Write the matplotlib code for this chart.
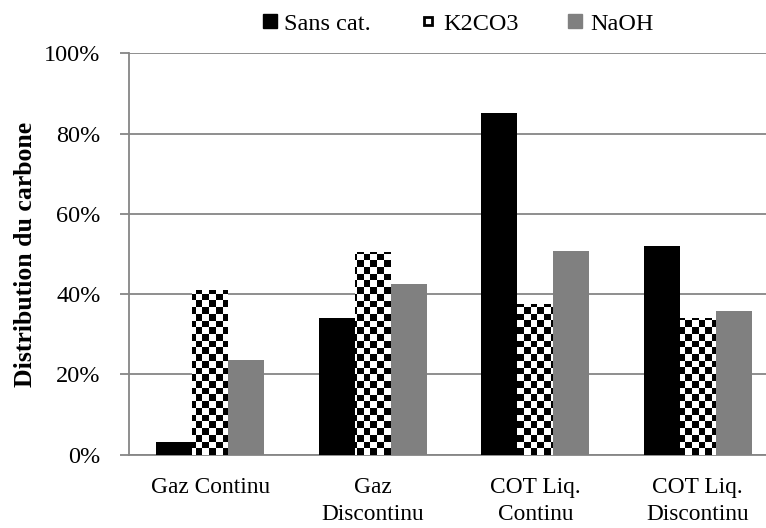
import numpy as np
import matplotlib
matplotlib.use("Agg")
import matplotlib.pyplot as plt
from matplotlib.lines import Line2D
from matplotlib.ticker import PercentFormatter

# === Data ===
categories = ["Gaz Continu", "Gaz\nDiscontinu", "COT Liq.\nContinu", "COT Liq.\nDiscontinu"]
series = ["Sans cat.", "K2CO3", "NaOH"]
sans_cat = [3.2, 34.1, 85.2, 52.0]
k2co3 = [41.0, 50.5, 37.5, 34.0]
naoh = [23.5, 42.5, 50.7, 35.8]

plt.rcParams["font.family"] = ["Liberation Serif", "DejaVu Serif"]
plt.rcParams["font.size"] = 17.5

fig = plt.figure(figsize=(7.66, 5.28), dpi=100)
# the original image is cropped at the right, so the axes run past the edge
ax = fig.add_axes([0.1684, 0.1392, 0.8486, 0.7595])

x = np.arange(len(categories))
w = 0.2215

b1 = ax.bar(x - w, sans_cat, w, color="black", zorder=3)
b2 = ax.bar(x, k2co3, w, color="white", zorder=3)
b3 = ax.bar(x + w, naoh, w, color="#808080", zorder=3)

ax.set_xlim(-0.5, len(categories) - 0.5)
ax.set_ylim(0, 100)

# checkerboard fill for K2CO3, clipped to each bar
sq = 6.7  # square size in pixels
nx = int(0.8486 * 766 / sq) + 1
ny = int(0.7595 * 528 / sq) + 1
board = (np.add.outer(np.arange(ny), np.arange(nx)) % 2).astype(float)
x0, x1 = ax.get_xlim()
y1 = ny * sq / (0.7595 * 528) * 100
xr = x0 + nx * sq / (0.8486 * 766) * (x1 - x0)
for bar in b2:
    im = ax.imshow(board, cmap="gray", extent=[x0, xr, 0, y1], origin="lower",
                   interpolation="nearest", aspect="auto", zorder=3.5)
    im.set_clip_path(bar)
ax.set_xlim(x0, x1)
ax.set_ylim(0, 100)

ax.yaxis.set_major_formatter(PercentFormatter(decimals=0))
ax.set_yticks(np.arange(0, 101, 20))
ax.grid(axis="y", color="#868686", lw=1.3, zorder=0)
ax.set_axisbelow(True)

for s in ["top", "right"]:
    ax.spines[s].set_visible(False)
for s in ["left", "bottom"]:
    ax.spines[s].set_color("#868686")
    ax.spines[s].set_linewidth(1.3)

ax.tick_params(axis="y", direction="out", length=6.5, width=1.3, color="#868686", pad=14)
ax.tick_params(axis="x", length=0, pad=16)
ax.set_xticks(x)
ax.set_xticklabels(categories, linespacing=1.4, fontsize=16.8)

ax.set_ylabel("Distribution du carbone", fontweight="bold", labelpad=5, fontsize=18.5)

handles = [
    Line2D([], [], ls="none", marker="s", ms=10.5, mfc="black", mec="black"),
    Line2D([], [], ls="none", marker="s", ms=5.5, mfc="white", mec="black", mew=2),
    Line2D([], [], ls="none", marker="s", ms=10.5, mfc="#808080", mec="#808080"),
]
fig.legend(handles, series, loc="upper center", bbox_to_anchor=(0.597, 1.017), ncol=3,
           frameon=False, handlelength=0.7, handletextpad=0.25,
           columnspacing=2.0, fontsize=17.5)

plt.savefig("out.png", dpi=100)
plt.close()
